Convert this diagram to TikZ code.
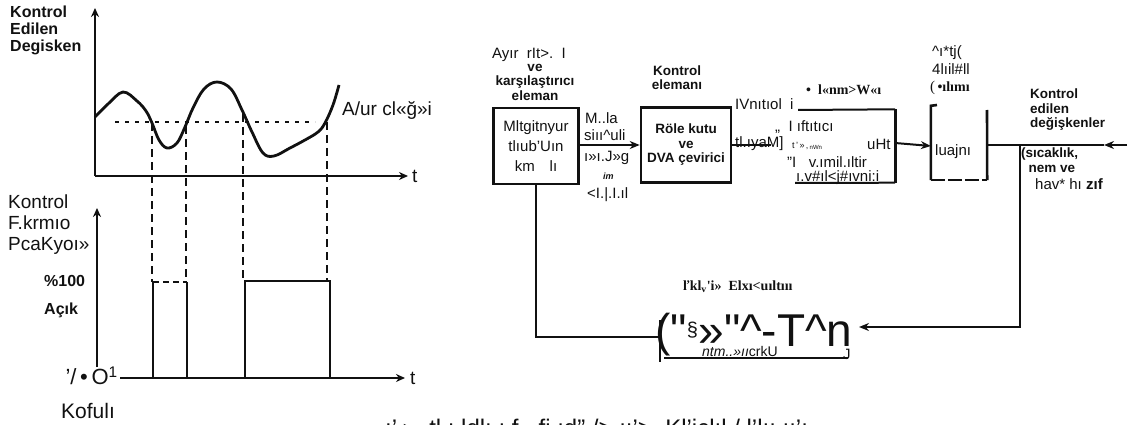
\documentclass[tikz,border=0pt]{standalone}
\usepackage{fontspec}
\setmainfont{Liberation Sans}
\newfontfamily\serifbf{Liberation Serif}
\newfontfamily\dejavu{DejaVu Sans}
\usepackage{tikz}
\usetikzlibrary{positioning,arrows.meta,calc}
\definecolor{inkDark}{HTML}{111111}
\tikzset{
  axis/.style={-{Stealth[length=9pt,width=8pt]}, line width=2.6pt, inkDark},
  curve/.style={line width=2.8pt, inkDark, line join=round},
  setp/.style={line width=1.2pt, inkDark, dash pattern=on 4pt off 6pt},
  vdash/.style={line width=2pt, inkDark, dash pattern=on 8pt off 5pt},
  pulse/.style={line width=2.6pt, inkDark},
  box/.style={draw=inkDark, line width=2.6pt, align=center, inner sep=2pt},
  openbox/.style={draw=none, align=center, inner sep=2pt},
  side/.style={line width=2.6pt, inkDark},
  edge/.style={line width=2pt, inkDark},
  arr/.style={-{Stealth[length=10pt,width=8pt]}, line width=2pt, inkDark},
  lbl/.style={font=\fontsize{15}{20}\selectfont, inner sep=0pt, text=inkDark},
  lblb/.style={font=\fontsize{13.5}{14.5}\selectfont\bfseries, inner sep=0pt, align=center, text=inkDark},
  lbll/.style={font=\fontsize{19}{21}\selectfont, inner sep=0pt, align=left, text=inkDark},
  lbls/.style={font=\serifbf\fontsize{14}{15}\selectfont\bfseries, inner sep=0pt, text=inkDark},
}
\begin{document}
\begin{tikzpicture}[x=1pt,y=-1pt]
  \useasboundingbox (0,0) rectangle (1132,425);

  % upper graph
  \coordinate (o1) at (95,176);
  \coordinate (y1) at (95,8);
  \coordinate (x1) at (408,176);
  \draw[axis] (o1) -- (y1);
  \draw[axis] (o1) -- (x1);
  \node[lbl, font=\fontsize{19}{19}\selectfont, anchor=west] (t1) at (412,176) {t};
  \node[lblb, font=\fontsize{16}{17}\selectfont\bfseries, align=left, anchor=north west] (kedl) at (10,6) {Kontrol\\Edilen\\Degisken};
  \draw[setp] (115,122) -- (315,122);
  \draw[curve] plot[smooth, tension=0.6] coordinates {(95,117) (108,104) (123,92) (137,101) (146,111) (152,123) (159,140) (167,148) (177,143) (185,127) (193,108) (204,89) (217,82) (231,89) (242,110) (252,132) (263,153) (274,156) (290,148) (305,140) (318,132) (325,123) (333,105) (339,85)};
  \node[lbll, anchor=west] (ayar) at (342,110) {A/ur cl«ğ»i};

  % projections
  \foreach \px/\py in {152/123, 186/126, 243/114, 327/122}
    \draw[vdash] (\px,\py) -- (\px,282);

  % lower graph
  \coordinate (o2) at (97,367);
  \coordinate (y2) at (97,208);
  \coordinate (x2a) at (120,378);
  \coordinate (x2) at (405,378);
  \draw[axis] (o2) -- (y2);
  \draw[axis] (x2a) -- (x2);
  \node[lbl, font=\fontsize{19}{19}\selectfont, anchor=west] (t2) at (410,378) {t};
  \node[lbll, anchor=north west] (kep) at (8,195) {Kontrol\\F.krmıo\\PcaKyoı»};
  \node[lblb, font=\fontsize{16}{28}\selectfont\bfseries, align=left, anchor=west] (acik) at (44,297) {\%100\\Açık};
  \node[lbll, font=\fontsize{22}{22}\selectfont, anchor=east] (kap) at (118,376) {'/\,•\,O\textsuperscript{1}};
  \node[lbll, font=\fontsize{21}{21}\selectfont] (kofuli) at (88,411) {Kofulı};
  \draw[pulse] (153,378) -- (153,282);
  \draw[edge, line width=1.2pt, dash pattern=on 6pt off 4pt] (153,282) -- (187,282);
  \draw[pulse] (187,282) -- (187,378);
  \draw[pulse] (245,378) -- (245,281) -- (330,281) -- (330,378);

  % block diagram
  \node[box, lbl, minimum width=85pt, minimum height=76pt] (kars) at (536,146) {Mltgitnyur\\tlıub'Uın\\km\quad lı};
  \node[lbl, anchor=west] (kars1) at (492,55) {Ayır\ \ rIt>.\ \ I};
  \node[lblb, anchor=north] (kars2) at (535,64) {ve\\karşılaştırıcı\\eleman};

  \node[box, lblb, minimum width=90pt, minimum height=75pt] (role) at (686,145) {Röle kutu\\ve\\DVA çevirici};
  \node[lblb, anchor=south] (role1) at (677,90) {Kontrol\\elemanı};

  \draw[arr] (kars.east |- role.west) -- (role.west);
  \node[lbl, anchor=west] (m1) at (585,118) {M..la};
  \node[lbl, anchor=west] (m2) at (584,135) {siıı\textasciicircum uli};
  \node[lbl, anchor=west] (m3) at (584,158) {ı»ı.J»g};
  \node[lbl, font=\fontsize{9}{9}\selectfont\bfseries\itshape, anchor=west] (m4) at (603,176) {im};
  \node[lbl, anchor=west] (m5) at (587,195) {<I.|.I.ıl};

  \node[openbox, minimum width=160pt, minimum height=73pt] (sec) at (815,146) {};
  \draw[edge] (798,110) -- (sec.north east);
  \draw[side] (sec.north east) -- (sec.south east);
  \draw[edge] (sec.south east) -- (795,183);
  \node[lbls, anchor=west] (sec0) at (806,90) {•\ \ l«nm>W«ı};
  \node[lbl, anchor=west] (sec1) at (735,104) {IVnıtıol\ \ i};
  \node[lbl, anchor=west] (sec2) at (775,127) {,,\ \ I ıftıtıcı};
  \node[lbl, anchor=west] (sec3) at (735,144) {tl.ıyaM]};
  \node[lbl, font=\fontsize{9}{9}\selectfont, anchor=west] (sec3b) at (792,146) {t\,'\,»\,‚\,\textsubscript{nWn}};
  \node[lbl, anchor=west] (sec3c) at (867,144) {uHt};
  \node[lbl, anchor=west] (sec4) at (787,162) {"I\ \ \ v.ımil.ıltir};
  \node[lbl, anchor=west] (sec5) at (796,178) {ı.v\#ıl<j\#ıvni:i};
  \coordinate (secin) at (771,145);
  \draw[edge] (role.east) -- (secin);

  \node[openbox, minimum width=56pt, minimum height=74pt] (akt) at (959,143) {};
  \node[lbl, anchor=west] (akt0) at (935,152) {luajnı};
  \draw[side] (937,105) -- (akt.north west) -- (akt.south west);
  \draw[side] (987,110) -- (akt.south east);
  \draw[edge, dash pattern=on 14pt off 3pt] (akt.south west) -- (akt.south east);
  \node[lbl, anchor=west] (akt1) at (932,53) {\textasciicircum ı*tj(};
  \node[lbl, anchor=west] (akt2) at (932,69) {4lıil\#ll};
  \node[lbls, anchor=west] (akt3) at (930,88) {{\fontsize{15}{15}\selectfont\mdseries(}\,•ılımı};
  \draw[arr] (sec.east |- akt.west) -- (akt.west |- sec.east);

  \coordinate (j) at (1020,145);
  \coordinate (outtip) at (1104,145);
  \coordinate (out) at (1127,145);
  \draw[edge] (akt.east |- j) -- (j);
  \draw[arr] (out) -- (outtip);
  \draw[edge] (outtip) -- (j);
  \node[lblb, align=left, anchor=south west] (ked) at (1030,131) {Kontrol\\edilen\\değişkenler};
  \node[lblb, align=left, anchor=north west] (ked2) at (1021,148) {(sıcaklık,\\\ \ nem ve};
  \node[lbl, anchor=west] (ked3) at (1035,184) {hav* hı \textbf{zıf}};

  % measuring element
  \node[lbl, font=\fontsize{46}{46}\selectfont, text depth=0pt, anchor=base west] (olc) at (655,346) {(\textquotedbl\textsuperscript{\fontsize{20}{20}\selectfont §}»\textquotedbl\textasciicircum -T\textasciicircum n};
  \node[lbls, anchor=west] (olc1) at (683,287) {ľkl\textsubscript{v}'i»\ \ Elxı<uıltııı};
  \draw[edge, line width=1.4pt] (660,320) -- (660,362);
  \draw[edge, line width=1.4pt] (664,358) -- (848,358);
  \node[lbl, font=\fontsize{14}{14}\selectfont\itshape, text depth=0pt, anchor=base west] (olc2) at (702,356) {ntm..»ıı\upshape crkU};
  \node[lbl, anchor=south west] (olc3) at (843,360) {J};
  \coordinate (olcin) at (859,327);
  \coordinate (olcout) at (660,337);
  \draw[arr] (j) |- (olcin);
  \draw[pulse] (olcout) -| (kars.south);

  % caption, cut by the page edge
  \begin{scope}
    \clip (380,416) rectangle (1132,425);
    \node[lbl, font=\fontsize{24}{24}\selectfont, anchor=north west] (capt) at (385,419) {ı' {\dejavu ▸}\ \ tl ı ldlı ı f\ \ \ fi ıd'' /> ıı'> \ Kl'iclıl / l'lıı ıı'ı};
  \end{scope}
\end{tikzpicture}
\end{document}
